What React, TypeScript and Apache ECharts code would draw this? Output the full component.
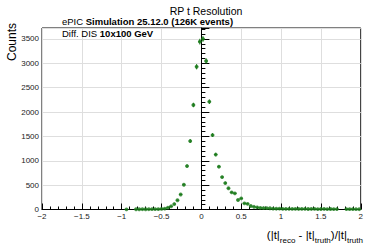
import React, { useEffect, useRef } from "react";
import * as echarts from "echarts";

// Bin centres (bin width 0.04) of non-empty bins and their counts
const binCenters = [
  -0.94, -0.82, -0.78, -0.74, -0.7, -0.66, -0.62, -0.58, -0.54, -0.5, -0.46, -0.42, -0.38, -0.34, -0.3,
  -0.26, -0.22, -0.18, -0.14, -0.1, -0.06, -0.02, 0.02, 0.06, 0.1, 0.14, 0.18, 0.22, 0.26, 0.3, 0.34,
  0.38, 0.42, 0.46, 0.5, 0.54, 0.58, 0.62, 0.66, 0.7, 0.74, 0.78, 0.82, 0.86, 0.9, 0.94, 0.98, 1.02,
  1.06, 1.1, 1.14, 1.18, 1.22, 1.26, 1.3, 1.34, 1.38, 1.42, 1.46, 1.5, 1.54, 1.58, 1.62, 1.66, 1.7,
  1.82, 1.86, 1.9, 1.94, 1.98,
];
const counts = [
  3, 5, 5, 6, 5, 6, 7, 8, 9, 12, 17, 37, 66, 112, 190,
  308, 508, 892, 1405, 2145, 2930, 3445, 3500, 3048, 2212, 1528, 1128, 878, 666, 543, 436,
  352, 332, 195, 228, 126, 117, 72, 56, 42, 33, 30, 29, 26, 17, 16, 18, 14,
  13, 14, 12, 13, 11, 12, 13, 10, 11, 12, 9, 10, 11, 9, 10, 9, 8,
  8, 7, 9, 7, 6,
];
const binWidth = 0.04;

const xTicks = [-2, -1.5, -1, -0.5, 0, 0.5, 1, 1.5, 2];
const yTicks = [0, 500, 1000, 1500, 2000, 2500, 3000, 3500];

const titleText = "RP t Resolution";
const FONT = "'Liberation Sans', Arial, Helvetica, sans-serif";
const GREEN = "#1c7a1c";

export default function App() {
  const ref = useRef<HTMLDivElement>(null);
  useEffect(() => {
    if (!ref.current) return;
    const chart = echarts.init(ref.current, null, { renderer: "svg" });
    const points = binCenters.map((x, i) => [x, counts[i]]);
    const option: any = {
      animation: false,
      backgroundColor: "#fff",
      textStyle: { fontFamily: FONT },
      grid: {
        left: 42,
        right: 3,
        top: 28,
        bottom: 36.5,
        show: true,
        borderColor: "#000",
        borderWidth: 1,
        backgroundColor: "transparent",
      },
      xAxis: {
        type: "value",
        min: xTicks[0],
        max: xTicks[xTicks.length - 1],
        interval: 0.5,
        axisLine: { show: true, onZero: false, lineStyle: { color: "#000", width: 1 } },
        axisTick: { show: true, inside: true, length: 6, lineStyle: { color: "#000" } },
        minorTick: { show: true, splitNumber: 5, length: 3, lineStyle: { color: "#000" } },
        splitLine: { show: true, lineStyle: { color: "#dedede", width: 1 } },
        axisLabel: {
          fontSize: 8,
          color: "#222",
          fontFamily: FONT,
          margin: 3,
          showMinLabel: true,
          showMaxLabel: true,
          formatter: (v: number) => String(v).replace("-", "\u2212"),
        },
      },
      yAxis: {
        type: "value",
        min: 0,
        max: 3725,
        interval: 500,
        axisLine: { show: true, lineStyle: { color: "#000", width: 1 } },
        axisTick: { show: true, inside: true, length: 8, lineStyle: { color: "#000" } },
        minorTick: { show: true, splitNumber: 5, length: 4, lineStyle: { color: "#000" } },
        splitLine: { show: true, lineStyle: { color: "#dedede", width: 1 } },
        axisLabel: {
          fontSize: 8,
          color: "#222",
          fontFamily: FONT,
          margin: 3,
          showMaxLabel: false,
          formatter: (v: number) => (yTicks.includes(v) ? String(v) : ""),
        },
      },
      series: [
        {
          type: "custom",
          data: points,
          clip: true,
          renderItem: (params: any, api: any) => {
            const x = api.value(0);
            const y = api.value(1);
            const e = Math.sqrt(y);
            const top = api.coord([x, y + e]);
            const bot = api.coord([x, Math.max(0, y - e)]);
            const l = api.coord([x - binWidth / 2, y]);
            const r = api.coord([x + binWidth / 2, y]);
            return {
              type: "group",
              children: [
                {
                  type: "line",
                  shape: { x1: top[0], y1: top[1], x2: bot[0], y2: bot[1] },
                  style: { stroke: GREEN, lineWidth: 1 },
                },
                {
                  type: "line",
                  shape: { x1: l[0], y1: l[1], x2: r[0], y2: r[1] },
                  style: { stroke: GREEN, lineWidth: 1 },
                },
              ],
            };
          },
          silent: true,
          z: 2,
        },
        {
          type: "scatter",
          data: points,
          symbol: "circle",
          symbolSize: 3.8,
          itemStyle: { color: GREEN },
          silent: true,
          z: 3,
        },
      ],
      graphic: [
        {
          type: "text",
          x: 206,
          y: 11,
          style: {
            text: titleText,
            fontSize: 10.5,
            fontFamily: FONT,
            fill: "#000",
            align: "center",
            verticalAlign: "middle",
          },
        },
        {
          type: "text",
          x: 62,
          y: 21.5,
          style: {
            text: "{n|ePIC }{b|Simulation 25.12.0 (126K events)}",
            fontFamily: FONT,
            fill: "#000",
            align: "left",
            verticalAlign: "middle",
            rich: {
              n: { fontSize: 9.5, fontFamily: FONT, fill: "#000" },
              b: { fontSize: 9.5, fontWeight: "bold", fontFamily: FONT, fill: "#000" },
            },
          },
        },
        {
          type: "text",
          x: 62,
          y: 33.5,
          z: 10,
          style: {
            text: "{n|Diff. DIS }{b|10x100 GeV}",
            fontFamily: FONT,
            fill: "#000",
            align: "left",
            verticalAlign: "middle",
            rich: {
              n: { fontSize: 9.5, fontFamily: FONT, fill: "#000" },
              b: { fontSize: 9.5, fontWeight: "bold", fontFamily: FONT, fill: "#000" },
            },
          },
        },
        {
          type: "text",
          x: 12,
          y: 23,
          rotation: Math.PI / 2,
          style: {
            text: "Counts",
            fontSize: 12,
            fontFamily: FONT,
            fill: "#000",
            align: "right",
            verticalAlign: "middle",
          },
        },
        {
          type: "text",
          x: 363,
          y: 229,
          style: {
            text: "{n|(|t|}{s|reco}{n| - |t|}{s|truth}{n|)/|t|}{s|truth}",
            fontFamily: FONT,
            fill: "#000",
            align: "right",
            verticalAlign: "top",
            rich: {
              n: { fontSize: 11.5, lineHeight: 14, verticalAlign: "top", fontFamily: FONT, fill: "#000" },
              s: { fontSize: 8, lineHeight: 23, fontFamily: FONT, fill: "#000" },
            },
          },
        },
      ],
    };
    chart.setOption(option);
    return () => chart.dispose();
  }, []);
  return <div ref={ref} style={{ width: 366, height: 246, position: "fixed", left: 0, top: 0 }} />;
}
